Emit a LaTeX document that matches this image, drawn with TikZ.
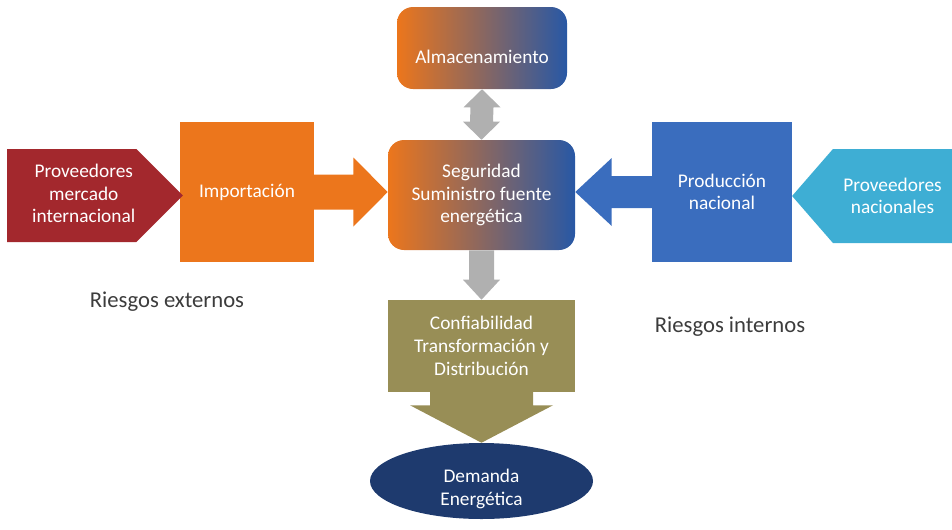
\documentclass[tikz,border=0pt]{standalone}
\usepackage{fontspec}
\setmainfont{Carlito}
\usepackage{tikz}
\usetikzlibrary{positioning, calc, shapes.symbols, shapes.geometric}

\definecolor{naranja}{RGB}{236,118,28}
\definecolor{azulgrad}{RGB}{40,88,165}
\definecolor{azul}{RGB}{58,109,190}
\definecolor{celeste}{RGB}{62,174,212}
\definecolor{rojo}{RGB}{163,40,45}
\definecolor{oliva}{RGB}{152,142,86}
\definecolor{azuloscuro}{RGB}{30,58,110}
\definecolor{gris}{RGB}{176,176,176}
\definecolor{textogris}{RGB}{60,60,60}

\begin{document}
\begin{tikzpicture}[x=0.75pt,y=0.75pt,yscale=-1,xscale=1,
    caja/.style={draw=none, text=white, align=center, inner sep=0.75pt, font=\fontsize{14.5}{17}\selectfont},
    gradiente/.style={left color=naranja, right color=azulgrad},
    riesgo/.style={text=textogris, inner sep=0.75pt, font=\fontsize{17}{20}\selectfont}]
        \useasboundingbox (0,0) rectangle (952,529);
        % Centro
        \node[caja, gradiente, rounded corners=12pt, minimum width=140.25pt, minimum height=82.5pt] (seg) at (481.5,195) {Seguridad\\Suministro fuente\\energética};
        % Almacenamiento
        \node[caja, gradiente, rounded corners=12pt, minimum width=127.5pt, minimum height=61.5pt] (alm) at (482,48) {\raisebox{-11.5pt}[0pt][0pt]{Almacenamiento}};
        % Lado externo
        \node[caja, fill=naranja, minimum width=100.5pt, minimum height=105pt] (imp) at (247,192) {Importación};
        \node[caja, fill=rojo, signal, signal to=east, minimum width=127.5pt, minimum height=69.75pt] (provint) at (71.75,195.5) {\begin{tabular}{@{\hspace{18pt}}c@{}}Proveedores\\mercado\\internacional\end{tabular}};
        % Lado interno
        \node[caja, fill=azul, minimum width=105pt, minimum height=105pt] (prod) at (722,192) {Producción\\nacional};
        \node[caja, fill=celeste, signal, signal to=west, signal pointer angle=98, minimum width=120pt, minimum height=70.5pt] (provnac) at (892.5,196) {Proveedores\\nacionales};
        % Abajo
        \node[caja, fill=oliva, minimum width=140.25pt, minimum height=69pt] (conf) at (481.5,346) {Confiabilidad\\Transformación y\\Distribución};
        \node[caja, fill=azuloscuro, ellipse, minimum width=167.25pt, minimum height=57pt] (dem) at (481.5,481) {\raisebox{-10pt}[0pt][0pt]{\begin{tabular}{@{}c@{}}Demanda\\Energética\end{tabular}}};
        % Flechas
        \fill[naranja] ($(imp.east)+(-1,-17.5)$) -- ++(40,0) -- ++(0,-17) -- (seg.west |- imp.east) -- ($(imp.east)+(39,34.5)$) -- ++(0,-17) -- ($(imp.east)+(-1,17.5)$) -- cycle;
        \fill[azul] ($(prod.west)+(1,-16)$) -- ++(-41,0) -- ++(0,-18) -- (seg.east |- prod.west) -- ($(prod.west)+(-40,34)$) -- ++(0,-18) -- ($(prod.west)+(1,16)$) -- cycle;
        \fill[gris] (alm.south) -- ++(18.5,18) -- ++(-7,0) -- ($(seg.north)+(11.5,-18)$) -- ++(7,0) -- (seg.north) -- ++(-18.5,-18) -- ++(7,0) -- ($(alm.south)+(-11.5,18)$) -- ++(-7,0) -- cycle;
        \fill[gris] ($(seg.south)+(-12.5,0)$) -- ($(conf.north)+(-12.5,-20)$) -- ++(-6,0) -- (conf.north) -- ++(18.5,-20) -- ++(-6,0) -- ($(seg.south)+(12.5,0)$) -- cycle;
        \fill[oliva] ($(conf.south)+(-51.5,-1)$) -- ++(0,14) -- ++(-20,0) -- (dem.north) -- ($(conf.south)+(71.5,13)$) -- ++(-20,0) -- ($(conf.south)+(51.5,-1)$) -- cycle;
        % Riesgos
        \node[riesgo] (rext) at (167,302) {Riesgos externos};
        \node[riesgo] (rint) at (730,327) {Riesgos internos};
\end{tikzpicture}
\end{document}
